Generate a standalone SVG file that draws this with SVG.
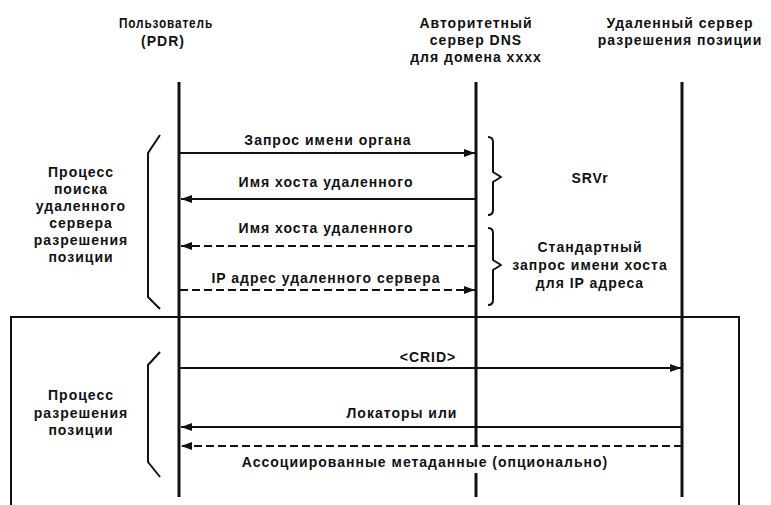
<svg xmlns="http://www.w3.org/2000/svg" width="771" height="505" viewBox="0 0 771 505">
<style>
text{font-family:"Liberation Sans",Arial,sans-serif;font-weight:bold;font-size:14px;fill:#111;text-anchor:middle;letter-spacing:1px}
.life{stroke:#111;stroke-width:3;fill:none}
.msg{stroke:#111;stroke-width:2;fill:none}
.dash{stroke-dasharray:8 4}
.brace{stroke:#111;stroke-width:2;fill:none;stroke-linejoin:round}
</style>
<defs>
<marker id="ah" markerUnits="userSpaceOnUse" markerWidth="12" markerHeight="10" refX="11" refY="4" orient="auto">
<path d="M0,0 L11,4 L0,8 z" fill="#111"/>
</marker>
</defs>
<rect width="771" height="505" fill="#fff"/>
<g id="frame">
<path d="M11,520 L11,317 L739,317 L739,520" fill="none" stroke="#111" stroke-width="2"/>
</g>
<g id="user">
<text x="166" y="28" letter-spacing="0" textLength="94" lengthAdjust="spacingAndGlyphs">Пользователь</text>
<text x="163" y="46" letter-spacing="0">(PDR)</text>
<line class="life" x1="179" y1="82" x2="179" y2="497"/>
</g>
<g id="dns">
<text x="476" y="28">Авторитетный</text>
<text x="476" y="45">сервер DNS</text>
<text x="476" y="62">для домена xxxx</text>
<path class="life" d="M476,82 L476,447 M476,473 L476,497"/>
</g>
<g id="lrs">
<text x="680" y="28">Удаленный сервер</text>
<text x="680" y="45">разрешения позиции</text>
<line class="life" x1="682" y1="82" x2="682" y2="497"/>
</g>
<g id="phase1">
<path class="brace" d="M160,135 L148,153 L148,297 L160,309"/>
<text x="81" y="177">Процесс</text>
<text x="81" y="194">поиска</text>
<text x="81" y="211">удаленного</text>
<text x="81" y="228">сервера</text>
<text x="81" y="245">разрешения</text>
<text x="81" y="262">позиции</text>
</g>
<g id="phase2">
<path class="brace" d="M160,352 L148,365 L148,462 L160,477"/>
<text x="81" y="400">Процесс</text>
<text x="81" y="418">разрешения</text>
<text x="81" y="435">позиции</text>
</g>
<g id="srv">
<path class="brace" d="M488,137 Q493,137 493,142 L493,172 L501,177 L493,182 L493,210 Q493,215 488,215"/>
<text x="590" y="183">SRVr</text>
</g>
<g id="std">
<path class="brace" d="M488,228 Q493,228 493,233 L493,260 L501,265 L493,270 L493,300 Q493,305 488,305"/>
<text x="590" y="252">Стандартный</text>
<text x="590" y="270">запрос имени хоста</text>
<text x="590" y="288">для IP адреса</text>
</g>
<g id="connectors">
<line class="msg" x1="180" y1="153" x2="475" y2="153" marker-end="url(#ah)"/>
<text x="328" y="145">Запрос имени органа</text>
<line class="msg" x1="476" y1="199" x2="181" y2="199" marker-end="url(#ah)"/>
<text x="326" y="187">Имя хоста удаленного</text>
<line class="msg dash" x1="476" y1="246" x2="181" y2="246" marker-end="url(#ah)"/>
<text x="326" y="233">Имя хоста удаленного</text>
<line class="msg dash" x1="180" y1="290" x2="475" y2="290" marker-end="url(#ah)"/>
<text x="326" y="283">IP адрес удаленного сервера</text>
<line class="msg" x1="180" y1="368" x2="681" y2="368" marker-end="url(#ah)"/>
<text x="428" y="362">&lt;CRID&gt;</text>
<line class="msg" x1="682" y1="427" x2="181" y2="427" marker-end="url(#ah)"/>
<text x="402" y="418">Локаторы или</text>
<line class="msg dash" x1="682" y1="446" x2="181" y2="446" marker-end="url(#ah)"/>
<text x="425" y="467">Ассоциированные метаданные (опционально)</text>
</g>
</svg>
